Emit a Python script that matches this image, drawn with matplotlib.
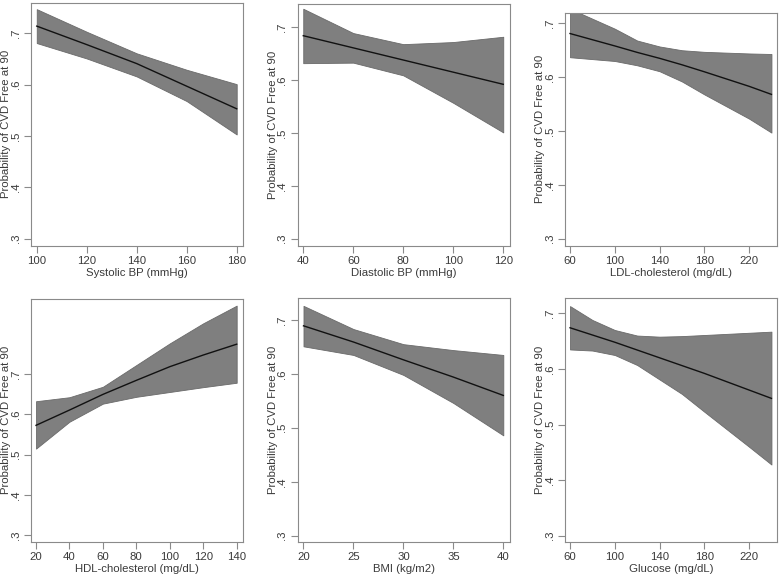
import matplotlib
matplotlib.use("Agg")
import matplotlib.pyplot as plt
import numpy as np

plt.rcParams['font.family'] = ['Liberation Sans', 'DejaVu Sans']

ylabel = "Probability of CVD Free at 90"
yticks = [0.3, 0.4, 0.5, 0.6, 0.7]
yticklabels = [".3", ".4", ".5", ".6", ".7"]

# Panel 1: Systolic BP
sbp_x = [100, 120, 140, 160, 180]
sbp_fit = [0.714, 0.678, 0.641, 0.597, 0.553]
sbp_hi = [0.747, 0.703, 0.661, 0.629, 0.601]
sbp_lo = [0.681, 0.651, 0.616, 0.568, 0.503]

# Panel 2: Diastolic BP
dbp_x = [40, 60, 80, 100, 120]
dbp_fit = [0.684, 0.661, 0.638, 0.615, 0.592]
dbp_hi = [0.735, 0.689, 0.668, 0.672, 0.682]
dbp_lo = [0.632, 0.633, 0.609, 0.557, 0.501]

# Panel 3: LDL-cholesterol
ldl_x = [60, 100, 120, 140, 160, 180, 220, 240]
ldl_fit = [0.681, 0.658, 0.646, 0.635, 0.623, 0.610, 0.583, 0.568]
ldl_hi = [0.727, 0.690, 0.668, 0.657, 0.650, 0.647, 0.644, 0.643]
ldl_lo = [0.637, 0.630, 0.622, 0.611, 0.592, 0.568, 0.523, 0.497]

# Panel 4: HDL-cholesterol
hdl_x = [20, 40, 60, 80, 100, 120, 140]
hdl_fit = [0.573, 0.611, 0.650, 0.685, 0.719, 0.748, 0.775]
hdl_hi = [0.633, 0.643, 0.669, 0.723, 0.777, 0.827, 0.871]
hdl_lo = [0.515, 0.582, 0.627, 0.644, 0.656, 0.668, 0.679]

# Panel 5: BMI
bmi_x = [20, 25, 30, 35, 40]
bmi_fit = [0.689, 0.659, 0.626, 0.594, 0.560]
bmi_hi = [0.726, 0.683, 0.655, 0.644, 0.635]
bmi_lo = [0.651, 0.635, 0.598, 0.546, 0.486]

# Panel 6: Glucose
glu_x = [60, 80, 100, 120, 140, 160, 180, 220, 240]
glu_fit = [0.674, 0.661, 0.648, 0.634, 0.620, 0.606, 0.592, 0.562, 0.547]
glu_hi = [0.713, 0.688, 0.670, 0.660, 0.658, 0.659, 0.661, 0.665, 0.667]
glu_lo = [0.635, 0.633, 0.625, 0.607, 0.581, 0.555, 0.523, 0.460, 0.428]

panels = [
    dict(x=sbp_x, fit=sbp_fit, hi=sbp_hi, lo=sbp_lo, xlabel="Systolic BP (mmHg)",
         xticks=[100, 120, 140, 160, 180], box=(31, 242.7, 2.7, 246), xlim=(97.7, 182.4),
         ylim=(0.2858, 0.7596), ylab_x=6.5),
    dict(x=dbp_x, fit=dbp_fit, hi=dbp_hi, lo=dbp_lo, xlabel="Diastolic BP (mmHg)",
         xticks=[40, 60, 80, 100, 120], box=(297.5, 510, 4, 246), xlim=(37.7, 122.7),
         ylim=(0.286, 0.744), ylab_x=272.5),
    dict(x=ldl_x, fit=ldl_fit, hi=ldl_hi, lo=ldl_lo, xlabel="LDL-cholesterol (mg/dL)",
         xticks=[60, 100, 140, 180, 220], box=(565, 776.7, 12.7, 246), xlim=(55.5, 244.7),
         ylim=(0.2864, 0.7197), ylab_x=540.0),
    dict(x=hdl_x, fit=hdl_fit, hi=hdl_hi, lo=hdl_lo, xlabel="HDL-cholesterol (mg/dL)",
         xticks=[20, 40, 60, 80, 100, 120, 140], box=(31, 242.7, 299, 541.7), xlim=(17.0, 143.6),
         ylim=(0.2833, 0.8875), ylab_x=6.5),
    dict(x=bmi_x, fit=bmi_fit, hi=bmi_hi, lo=bmi_lo, xlabel="BMI (kg/m2)",
         xticks=[20, 25, 30, 35, 40], box=(297.5, 510, 298.3, 541.7), xlim=(19.4, 40.67),
         ylim=(0.2889, 0.740), ylab_x=273.0),
    dict(x=glu_x, fit=glu_fit, hi=glu_hi, lo=glu_lo, xlabel="Glucose (mg/dL)",
         xticks=[60, 100, 140, 180, 220], box=(565, 776.7, 298.3, 541.7), xlim=(55.5, 244.7),
         ylim=(0.2892, 0.727), ylab_x=540.0),
]

W, H = 780, 574
fig = plt.figure(figsize=(W / 100, H / 100), dpi=100)
fig.patch.set_facecolor("white")

text_color = "#3a3a3a"
spine_color = "#8a8a8a"

for p in panels:
    l, r, t, b = p["box"]
    ax = fig.add_axes([l / W, 1 - b / H, (r - l) / W, (b - t) / H])
    ax.fill_between(p["x"], p["lo"], p["hi"], facecolor="#7f7f7f", edgecolor="#6a6a6a", linewidth=0.6, zorder=1)
    ax.plot(p["x"], p["fit"], color="#111111", linewidth=1.0, zorder=2)
    ax.set_xlim(*p["xlim"])
    ax.set_ylim(*p["ylim"])
    ax.set_xticks(p["xticks"])
    ax.set_xticklabels([str(v) for v in p["xticks"]])
    ax.set_yticks(yticks)
    ax.set_yticklabels(yticklabels, rotation=90, va="center")
    ax.tick_params(axis="both", colors=spine_color, labelcolor=text_color, labelsize=8.2, length=5, width=0.8, pad=2.5)
    for s in ax.spines.values():
        s.set_color(spine_color)
        s.set_linewidth(0.8)
    ax.set_xlabel(p["xlabel"], fontsize=8.2, color=text_color, labelpad=1.5)
    ax.set_ylabel(ylabel, fontsize=8.2, color=text_color)
    ax.yaxis.label.set_verticalalignment("center")
    ax.yaxis.set_label_coords((p["ylab_x"] - l) / (r - l), 0.5)

fig.savefig("out.png", dpi=100)
